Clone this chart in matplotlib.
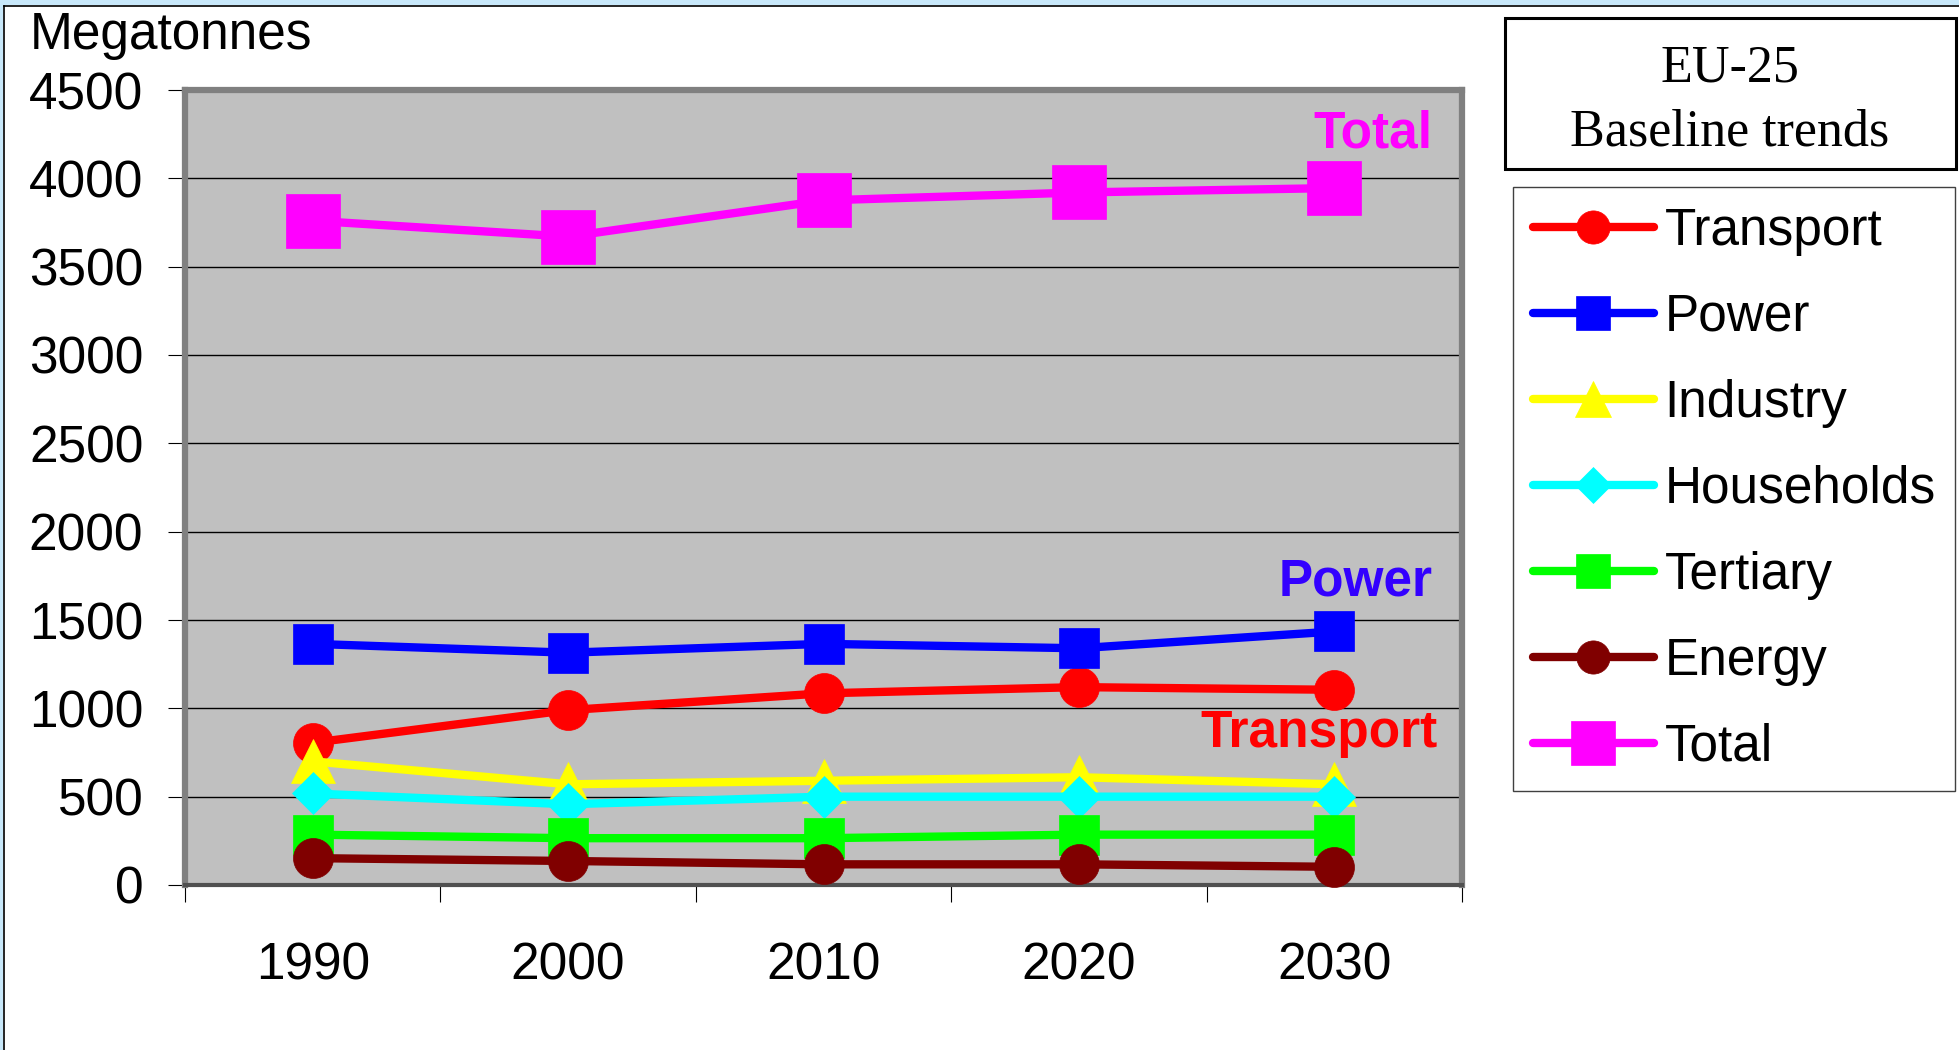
import numpy as np
import matplotlib
matplotlib.use('Agg')
from matplotlib import pyplot as plt
from matplotlib.patches import Rectangle
from matplotlib.lines import Line2D

plt.rcParams['font.family'] = ['Liberation Sans', 'DejaVu Sans']

# data (Megatonnes)
years = ['1990', '2000', '2010', '2020', '2030']
transport = [805, 990, 1085, 1120, 1105]
power = [1365, 1315, 1365, 1340, 1435]
industry = [700, 570, 590, 610, 570]
households = [518, 457, 500, 500, 500]
tertiary = [285, 265, 265, 285, 285]
energy = [152, 136, 117, 117, 103]
total = [3760, 3670, 3875, 3920, 3945]

W, H = 1959, 1050
fig = plt.figure(figsize=(W/100, H/100), dpi=100)
fig.patch.set_facecolor('white')

# light blue strip + black line on top and left edge
fig.patches.append(Rectangle((0, 1-5/H), 1, 5/H, transform=fig.transFigure,
                             facecolor='#c8e8fa', edgecolor='none'))
fig.patches.append(Rectangle((0, 0), 3/W, 1, transform=fig.transFigure,
                             facecolor='#c8e8fa', edgecolor='none'))
fig.lines.append(Line2D([4/W, 1], [1-5.5/H, 1-5.5/H], transform=fig.transFigure,
                        color='black', lw=1.2))
fig.lines.append(Line2D([4/W, 4/W], [0, 1-5.5/H], transform=fig.transFigure,
                        color='black', lw=1.2))

ax = fig.add_axes([185/W, 1-885/H, (1462-185)/W, (885-90)/H])
ax.set_facecolor('#c0c0c0')

x = np.arange(len(years))
series = [
    ('Transport', transport, '#ff0000', 'o', 28.8),
    ('Power', power, '#0000ff', 's', 28.8),
    ('Industry', industry, '#ffff00', '^', 31.5),
    ('Households', households, '#00ffff', 'D', 21.5),
    ('Tertiary', tertiary, '#00ff00', 's', 28.8),
    ('Energy', energy, '#800000', 'o', 28.8),
    ('Total', total, '#ff00ff', 's', 39),
]
handles = []
for name, vals, col, mk, ms in series:
    ln, = ax.plot(x, vals, color=col, lw=6, marker=mk, ms=ms, mec=col, mfc=col,
                  mew=0.5, label=name, solid_capstyle='round', clip_on=False, zorder=3)
    handles.append(ln)

ax.set_xlim(-0.5, 4.5)
ax.set_ylim(0, 4500)
ax.set_yticks(range(0, 4501, 500))
ax.yaxis.grid(True, color='black', lw=1)
ax.set_axisbelow(True)
ax.tick_params(axis='y', direction='out', length=12, width=0.8, pad=18, labelsize=37)
ax.set_xticks(x)
ax.set_xticklabels(years)
ax.set_xticks(np.arange(-0.5, 5, 1), minor=True)
ax.tick_params(axis='x', which='major', length=0, pad=40.5, labelsize=37)
ax.tick_params(axis='x', which='minor', direction='out', length=12, width=0.8)

for s in ['left', 'top', 'right']:
    ax.spines[s].set_color('#808080')
    ax.spines[s].set_linewidth(4.5)
ax.spines['bottom'].set_color('#505050')
ax.spines['bottom'].set_linewidth(3)

# labels inside the plot
ax.text(4.383, 4172, 'Total', color='#ff00ff', fontsize=37, fontweight='bold',
        ha='right', va='baseline')
ax.text(4.386, 1636, 'Power', color='#3300ff', fontsize=37, fontweight='bold',
        ha='right', va='baseline')
ax.text(4.406, 781, 'Transport', color='#ff0000', fontsize=37, fontweight='bold',
        ha='right', va='baseline')

fig.text(30/W, 1-49/H, 'Megatonnes', fontsize=37, ha='left', va='baseline')

# title box
fig.patches.append(Rectangle((1505/W, 1-169/H), (1956-1505)/W, (169-18)/H,
                             transform=fig.transFigure, facecolor='white',
                             edgecolor='black', lw=2.2))
fig.text(1730/W, 1-82/H, 'EU-25', fontsize=37.5, family='Liberation Serif',
         ha='center', va='baseline')
fig.text(1730/W, 1-145/H, 'Baseline trends', fontsize=37.5, family='Liberation Serif',
         ha='center', va='baseline')

leg = fig.legend(handles=handles, loc='upper left',
                 bbox_to_anchor=(1513/W, 1-187/H), bbox_transform=fig.transFigure,
                 fontsize=37, frameon=True, fancybox=False, framealpha=1,
                 edgecolor='#404040', borderaxespad=0, borderpad=0.38,
                 handlelength=2.37, handletextpad=0.2, labelspacing=0.72,
                 markerscale=0.83)
leg.get_frame().set_linewidth(1.0)

fig.savefig('out.png', dpi=100)
